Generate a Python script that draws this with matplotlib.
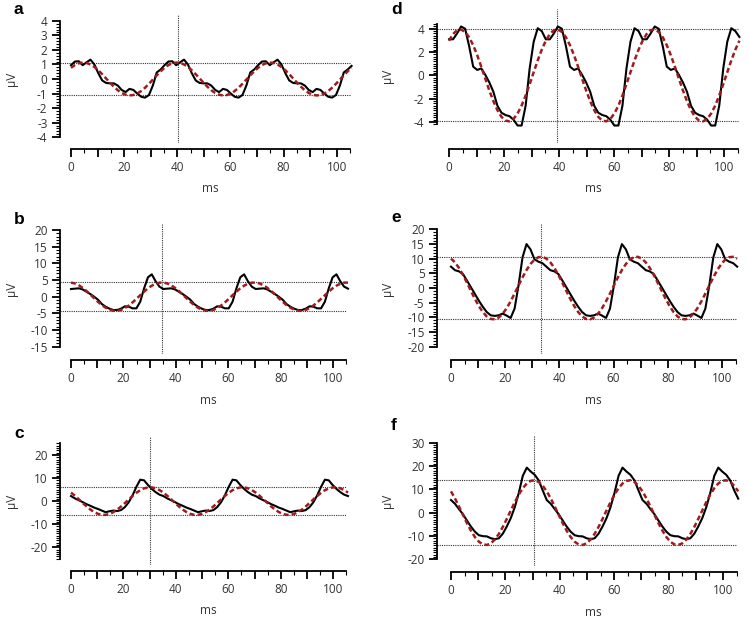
import numpy as np
import matplotlib.pyplot as plt

plt.rcParams['font.family'] = ['Open Sans', 'DejaVu Sans']
plt.rcParams['axes.unicode_minus'] = False

# time base: 24 samples per stimulus cycle (~35.2 ms)
period_ms = 35.2
t = np.arange(73) * period_ms / 24

a_black = [0.95, 1.2, 1.22, 0.95, 1.15, 1.33, 1.0, 0.4, -0.1, -0.27, -0.3, -0.3,
           -0.45, -0.75, -0.9, -0.68, -0.75, -1.0, -1.22, -1.28, -1.1, -0.45, 0.45, 0.65,
           0.95, 1.2, 1.22, 0.95, 1.15, 1.33, 1.0, 0.4, -0.1, -0.27, -0.3, -0.3,
           -0.45, -0.75, -0.9, -0.68, -0.75, -1.0, -1.22, -1.28, -1.1, -0.45, 0.45, 0.65,
           0.95, 1.2, 1.22, 0.95, 1.15, 1.33, 1.0, 0.4, -0.1, -0.27, -0.3, -0.3,
           -0.45, -0.75, -0.9, -0.68, -0.75, -1.0, -1.22, -1.28, -1.1, -0.45, 0.45, 0.65,
           0.9]
a_fit = [0.77, 0.96, 1.08, 1.13, 1.10, 1.00, 0.83, 0.60, 0.33, 0.04, -0.25, -0.53,
         -0.77, -0.96, -1.08, -1.13, -1.10, -1.00, -0.83, -0.60, -0.33, -0.04, 0.25, 0.53,
         0.77, 0.96, 1.08, 1.13, 1.10, 1.00, 0.83, 0.60, 0.33, 0.04, -0.25, -0.53,
         -0.77, -0.96, -1.08, -1.13, -1.10, -1.00, -0.83, -0.60, -0.33, -0.04, 0.25, 0.53,
         0.77, 0.96, 1.08, 1.13, 1.10, 1.00, 0.83, 0.60, 0.33, 0.04, -0.25, -0.53,
         -0.77, -0.96, -1.08, -1.13, -1.10, -1.00, -0.83, -0.60, -0.33, -0.04, 0.25, 0.53,
         0.77]

b_black = [2.3, 2.4, 2.5, 2.2, 1.5, 0.8, 0.0, -0.9, -2.2, -3.0, -3.6, -4.0,
           -4.0, -3.6, -2.9, -3.0, -3.5, -3.5, -1.5, 2.5, 5.8, 6.7, 4.6, 3.0,
           2.3, 2.4, 2.5, 2.2, 1.5, 0.8, 0.0, -0.9, -2.2, -3.0, -3.6, -4.0,
           -4.0, -3.6, -2.9, -3.0, -3.5, -3.5, -1.5, 2.5, 5.8, 6.7, 4.6, 3.0,
           2.3, 2.4, 2.5, 2.2, 1.5, 0.8, 0.0, -0.9, -2.2, -3.0, -3.6, -4.0,
           -4.0, -3.6, -2.9, -3.0, -3.5, -3.5, -1.5, 2.5, 5.8, 6.7, 4.6, 3.0,
           2.4]
b_fit = [4.23, 3.97, 3.44, 2.67, 1.73, 0.67, -0.44, -1.52, -2.50, -3.30, -3.88, -4.20,
         -4.23, -3.97, -3.44, -2.67, -1.73, -0.67, 0.44, 1.52, 2.50, 3.30, 3.88, 4.20,
         4.23, 3.97, 3.44, 2.67, 1.73, 0.67, -0.44, -1.52, -2.50, -3.30, -3.88, -4.20,
         -4.23, -3.97, -3.44, -2.67, -1.73, -0.67, 0.44, 1.52, 2.50, 3.30, 3.88, 4.20,
         4.23, 3.97, 3.44, 2.67, 1.73, 0.67, -0.44, -1.52, -2.50, -3.30, -3.88, -4.20,
         -4.23, -3.97, -3.44, -2.67, -1.73, -0.67, 0.44, 1.52, 2.50, 3.30, 3.88, 4.20,
         4.23]

c_black = [2.2, 1.2, 0.4, -0.4, -1.3, -2.0, -2.8, -3.4, -4.1, -4.8, -4.4, -4.1,
           -4.3, -3.9, -2.6, -0.5, 2.5, 6.2, 9.3, 9.0, 7.0, 5.3, 3.9, 2.8,
           2.2, 1.2, 0.4, -0.4, -1.3, -2.0, -2.8, -3.4, -4.1, -4.8, -4.4, -4.1,
           -4.3, -3.9, -2.6, -0.5, 2.5, 6.2, 9.3, 9.0, 7.0, 5.3, 3.9, 2.8,
           2.2, 1.2, 0.4, -0.4, -1.3, -2.0, -2.8, -3.4, -4.1, -4.8, -4.4, -4.1,
           -4.3, -3.9, -2.6, -0.5, 2.5, 6.2, 9.3, 9.0, 7.0, 5.3, 3.9, 2.8,
           2.2]
c_fit = [3.70, 2.35, 0.84, -0.73, -2.25, -3.61, -4.73, -5.52, -5.94, -5.96, -5.56, -4.79,
         -3.70, -2.35, -0.84, 0.73, 2.25, 3.61, 4.73, 5.52, 5.94, 5.96, 5.56, 4.79,
         3.70, 2.35, 0.84, -0.73, -2.25, -3.61, -4.73, -5.52, -5.94, -5.96, -5.56, -4.79,
         -3.70, -2.35, -0.84, 0.73, 2.25, 3.61, 4.73, 5.52, 5.94, 5.96, 5.56, 4.79,
         3.70, 2.35, 0.84, -0.73, -2.25, -3.61, -4.73, -5.52, -5.94, -5.96, -5.56, -4.79,
         -3.70, -2.35, -0.84, 0.73, 2.25, 3.61, 4.73, 5.52, 5.94, 5.96, 5.56, 4.79,
         3.70]

d_black = [3.1, 3.1, 3.6, 4.2, 4.0, 2.5, 0.75, 0.47, 0.6, 0.05, -0.6, -1.4,
           -2.6, -3.2, -3.4, -3.5, -3.8, -4.3, -4.3, -2.6, 0.6, 2.9, 4.05, 3.8,
           3.1, 3.1, 3.6, 4.2, 4.0, 2.5, 0.75, 0.47, 0.6, 0.05, -0.6, -1.4,
           -2.6, -3.2, -3.4, -3.5, -3.8, -4.3, -4.3, -2.6, 0.6, 2.9, 4.05, 3.8,
           3.1, 3.1, 3.6, 4.2, 4.0, 2.5, 0.75, 0.47, 0.6, 0.05, -0.6, -1.4,
           -2.6, -3.2, -3.4, -3.5, -3.8, -4.3, -4.3, -2.6, 0.6, 2.9, 4.05, 3.8,
           3.3]
d_fit = [2.98, 3.55, 3.88, 3.94, 3.73, 3.27, 2.59, 1.73, 0.75, -0.28, -1.29, -2.21,
         -2.98, -3.55, -3.88, -3.94, -3.73, -3.27, -2.59, -1.73, -0.75, 0.28, 1.29, 2.21,
         2.98, 3.55, 3.88, 3.94, 3.73, 3.27, 2.59, 1.73, 0.75, -0.28, -1.29, -2.21,
         -2.98, -3.55, -3.88, -3.94, -3.73, -3.27, -2.59, -1.73, -0.75, 0.28, 1.29, 2.21,
         2.98, 3.55, 3.88, 3.94, 3.73, 3.27, 2.59, 1.73, 0.75, -0.28, -1.29, -2.21,
         -2.98, -3.55, -3.88, -3.94, -3.73, -3.27, -2.59, -1.73, -0.75, 0.28, 1.29, 2.21,
         2.98]

e_black = [7.3, 6.1, 5.7, 4.8, 2.6, 0.3, -2.0, -4.3, -6.4, -8.2, -9.3, -9.5,
           -9.3, -8.7, -9.4, -10.2, -7.0, 1.0, 10.5, 15.0, 13.2, 9.8, 9.0, 8.5,
           7.3, 6.1, 5.7, 4.8, 2.6, 0.3, -2.0, -4.3, -6.4, -8.2, -9.3, -9.5,
           -9.3, -8.7, -9.4, -10.2, -7.0, 1.0, 10.5, 15.0, 13.2, 9.8, 9.0, 8.5,
           7.3, 6.1, 5.7, 4.8, 2.6, 0.3, -2.0, -4.3, -6.4, -8.2, -9.3, -9.5,
           -9.3, -8.7, -9.4, -10.2, -7.0, 1.0, 10.5, 15.0, 13.2, 9.8, 9.0, 8.5,
           7.3]
e_fit = [10.05, 8.77, 6.88, 4.52, 1.86, -0.93, -3.66, -6.14, -8.20, -9.70, -10.54, -10.66,
         -10.05, -8.77, -6.88, -4.52, -1.86, 0.93, 3.66, 6.14, 8.20, 9.70, 10.54, 10.66,
         10.05, 8.77, 6.88, 4.52, 1.86, -0.93, -3.66, -6.14, -8.20, -9.70, -10.54, -10.66,
         -10.05, -8.77, -6.88, -4.52, -1.86, 0.93, 3.66, 6.14, 8.20, 9.70, 10.54, 10.66,
         10.05, 8.77, 6.88, 4.52, 1.86, -0.93, -3.66, -6.14, -8.20, -9.70, -10.54, -10.66,
         -10.05, -8.77, -6.88, -4.52, -1.86, 0.93, 3.66, 6.14, 8.20, 9.70, 10.54, 10.66,
         10.05]

f_black = [5.4, 3.8, 1.5, -0.7, -3.4, -6.0, -8.2, -9.7, -10.1, -10.2, -11.0, -11.4,
           -11.0, -9.0, -5.9, -2.3, 2.4, 8.5, 15.8, 19.3, 17.6, 16.2, 13.8, 9.5,
           5.4, 3.8, 1.5, -0.7, -3.4, -6.0, -8.2, -9.7, -10.1, -10.2, -11.0, -11.4,
           -11.0, -9.0, -5.9, -2.3, 2.4, 8.5, 15.8, 19.3, 17.6, 16.2, 13.8, 9.5,
           5.4, 3.8, 1.5, -0.7, -3.4, -6.0, -8.2, -9.7, -10.1, -10.2, -11.0, -11.4,
           -11.0, -9.0, -5.9, -2.3, 2.4, 8.5, 15.8, 19.3, 17.6, 16.2, 13.8, 9.5,
           6.0]
f_fit = [9.12, 6.09, 2.65, -0.97, -4.53, -7.77, -10.49, -12.49, -13.65, -13.87, -13.15, -11.52,
         -9.12, -6.09, -2.65, 0.97, 4.53, 7.77, 10.49, 12.49, 13.65, 13.87, 13.15, 11.52,
         9.12, 6.09, 2.65, -0.97, -4.53, -7.77, -10.49, -12.49, -13.65, -13.87, -13.15, -11.52,
         -9.12, -6.09, -2.65, 0.97, 4.53, 7.77, 10.49, 12.49, 13.65, 13.87, 13.15, 11.52,
         9.12, 6.09, 2.65, -0.97, -4.53, -7.77, -10.49, -12.49, -13.65, -13.87, -13.15, -11.52,
         -9.12, -6.09, -2.65, 0.97, 4.53, 7.77, 10.49, 12.49, 13.65, 13.87, 13.15, 11.52,
         9.12]

# fit amplitude (horizontal guides) and peak latency (vertical guide)
amplitudes = {'a': 1.13, 'b': 4.25, 'c': 6.0, 'd': 3.95, 'e': 10.7, 'f': 13.9}
peak_ms = {'a': 40.4, 'b': 34.6, 'c': 30.1, 'd': 39.2, 'e': 33.2, 'f': 30.4}

W, H = 749, 618
fig = plt.figure(figsize=(W / 100, H / 100), dpi=100)

# layout in pixels: y spine x, x of 0 ms, px per ms, top, bottom, letter y,
# ylim, spine range, major / minor y tick step
panels = [
    ('a', a_black, a_fit, 60, 71, 2.657, 15, 143, 10, (-4.4, 4.4), (-4, 4), 1, 0.2),
    ('b', b_black, b_fit, 60, 71, 2.623, 224, 354, 219, (-17.2, 21.8), (-15, 20), 5, 1),
    ('c', c_black, c_fit, 60, 71, 2.623, 437, 565, 433, (-27.7, 27.8), (-25, 25), 10, 1),
    ('d', d_black, d_fit, 437, 449, 2.75, 9, 143, 10, (-5.8, 5.7), (-4.2, 4.4), 2, 0.2),
    ('e', e_black, e_fit, 437, 451, 2.71, 223, 354, 218, (-22.5, 22.2), (-20, 20), 5, 1),
    ('f', f_black, f_fit, 437, 451, 2.72, 435, 566, 425, (-22.9, 33.3), (-20, 30), 10, 1),
]

for (name, black, fit, xs, x0, sx, top, bottom, letter_y,
     ylim, ybounds, ymaj, ymin) in panels:
    x_left = (xs - x0) / sx
    x_right = 106.5
    right = x0 + x_right * sx
    height = bottom - top
    ax = fig.add_axes([xs / W, 1 - bottom / H, (right - xs) / W, height / H])
    ax.set_xlim(x_left, x_right)
    ax.set_ylim(*ylim)

    amp = amplitudes[name]
    ax.plot([x_left, 105], [amp, amp], color='#333333', lw=0.8, ls=(0, (1, 1)))
    ax.plot([x_left, 105], [-amp, -amp], color='#333333', lw=0.8, ls=(0, (1, 1)))
    ax.axvline(peak_ms[name], color='#333333', lw=0.8, ls=(0, (1, 1)))

    ax.plot(t, black, color='black', lw=1.5, solid_joinstyle='round')
    ax.plot(t, fit, color='#a01c1c', lw=1.8, ls=(0, (2.0, 1.2)))

    for s in ['top', 'right']:
        ax.spines[s].set_visible(False)
    ax.spines['left'].set_bounds(*ybounds)
    ax.spines['bottom'].set_bounds(0, 105)
    ax.spines['bottom'].set_position(('outward', 4))
    for s in ['left', 'bottom']:
        ax.spines[s].set_linewidth(1.3)

    xt = np.arange(0, 101, 10)
    ax.set_xticks(xt)
    ax.set_xticklabels([str(v) if v % 20 == 0 else '' for v in xt])
    ax.set_xticks(np.arange(5, 106, 10), minor=True)

    yt = np.arange(np.ceil(ybounds[0] / ymaj) * ymaj, ybounds[1] + 1e-6, ymaj)
    ax.set_yticks(yt)
    ax.set_yticklabels(['%g' % v for v in yt])
    ax.set_yticks(np.arange(ybounds[0], ybounds[1] + 1e-6, ymin), minor=True)

    ax.tick_params(which='major', direction='out', length=5.5, width=1.3,
                   labelsize=8.5, colors='black', labelcolor='#333333')
    ax.tick_params(which='minor', direction='out', length=3, width=0.8)

    ax.set_xlabel('ms', fontsize=8.5, color='#333333', va='center')
    ax.xaxis.set_label_coords((52.5 - x_left) / (x_right - x_left), -46 / height)
    ax.set_ylabel('µV', fontsize=8.5, color='#333333')
    ax.yaxis.set_label_coords(-(xs - (18 if xs < 300 else 394)) / (right - xs), 0.5)

    fig.text((xs - 46) / W, 1 - letter_y / H, name,
             fontsize=12.5, fontweight='bold', family='Liberation Sans', va='center')

fig.savefig('out.png', dpi=100)
